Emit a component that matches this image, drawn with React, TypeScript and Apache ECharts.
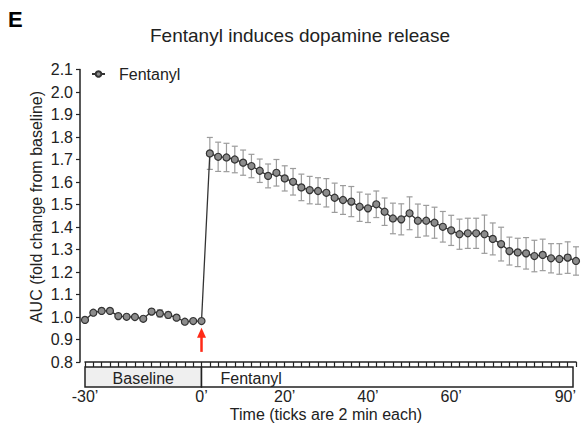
import React, { useEffect, useRef } from "react";
import * as echarts from "echarts";

const FONT = '"Liberation Sans", Arial, Helvetica, sans-serif';

const chartTitle = "Fentanyl induces dopamine release";
const panelLetter = "E";
const seriesName = "Fentanyl";
const yAxisTitle = "AUC (fold change from baseline)";
const xAxisTitle = "Time (ticks are 2 min each)";
const phaseLabels = ["Baseline", "Fentanyl"];

// x tick values (minutes) and their printed labels
const xLabelValues = [-28, 0, 20, 40, 60, 90];
const xLabelTexts = ["-30\u2019", "0\u2019", "20\u2019", "40\u2019", "60\u2019", "90\u2019"];

const baselineTimes = [-28, -26, -24, -22, -20, -18, -16, -14, -12, -10, -8, -6, -4, -2, 0];
const baselineMean = [0.987, 1.019, 1.027, 1.027, 1.004, 1.001, 1.0, 0.992, 1.024, 1.016, 1.009, 0.997, 0.979, 0.982, 0.982];
const baselineSem = [0.006, 0.006, 0.006, 0.006, 0.005, 0.005, 0.005, 0.006, 0.01, 0.016, 0.014, 0.006, 0.006, 0.005, 0.006];

const fentanylTimes = [
  2, 4, 6, 8, 10, 12, 14, 16, 18, 20, 22, 24, 26, 28, 30, 32, 34, 36, 38, 40, 42, 44, 46,
  48, 50, 52, 54, 56, 58, 60, 62, 64, 66, 68, 70, 72, 74, 76, 78, 80, 82, 84, 86, 88, 90,
];
const fentanylMean = [
  1.727, 1.712, 1.709, 1.7, 1.686, 1.671, 1.65, 1.627, 1.641, 1.616, 1.601, 1.576, 1.564, 1.56,
  1.552, 1.53, 1.52, 1.513, 1.49, 1.483, 1.501, 1.468, 1.438, 1.434, 1.461, 1.428, 1.428, 1.419,
  1.401, 1.385, 1.368, 1.372, 1.372, 1.368, 1.347, 1.324, 1.293, 1.287, 1.283, 1.271, 1.276,
  1.261, 1.258, 1.264, 1.249,
];
const fentanylSem = [
  0.071, 0.065, 0.063, 0.059, 0.056, 0.052, 0.052, 0.053, 0.059, 0.056, 0.059, 0.059, 0.061,
  0.059, 0.063, 0.065, 0.064, 0.067, 0.065, 0.063, 0.059, 0.061, 0.068, 0.069, 0.073, 0.074,
  0.068, 0.069, 0.068, 0.067, 0.067, 0.067, 0.067, 0.085, 0.071, 0.075, 0.062, 0.063, 0.07,
  0.07, 0.07, 0.065, 0.068, 0.07, 0.063,
];

// red arrow marking injection (time, from value, to value)
const arrowTime = 0;
const arrowFrom = 0.845;
const arrowTo = 0.952;

export default function App() {
  const ref = useRef<HTMLDivElement>(null);

  useEffect(() => {
    if (!ref.current) return;
    const chart = echarts.init(ref.current, undefined, { renderer: "svg" });

    const times = [...baselineTimes, ...fentanylTimes];
    const means = [...baselineMean, ...fentanylMean];
    const sems = [...baselineSem, ...fentanylSem];
    const lineData = times.map((t, i) => [t, means[i]]);
    const errData = times.map((t, i) => [t, means[i] - sems[i], means[i] + sems[i]]);

    const option: any = {
      animation: false,
      backgroundColor: "#ffffff",
      textStyle: { fontFamily: FONT },
      grid: { left: 85, right: 8, top: 69.5, bottom: 66, containLabel: false },
      legend: {
        data: [seriesName],
        left: 91,
        top: 66,
        padding: 0,
        itemWidth: 13,
        itemHeight: 7,
        textStyle: { fontSize: 16, color: "#222", fontFamily: FONT, padding: [0, 0, 0, 9] },
      },
      xAxis: {
        type: "value",
        min: -28,
        max: 90,
        interval: 2,
        splitLine: { show: false },
        axisLine: { onZero: false, lineStyle: { color: "#222", width: 1.5 } },
        axisTick: { show: true, length: 5, inside: false, lineStyle: { color: "#222", width: 1.2 } },
        axisLabel: {
          margin: 26,
          fontSize: 16,
          color: "#222",
          fontFamily: FONT,
          showMinLabel: true,
          showMaxLabel: true,
          alignMaxLabel: "right",
          formatter: (v: number) => {
            const k = xLabelValues.indexOf(Math.round(v));
            return k >= 0 ? xLabelTexts[k] : "";
          },
        },
      },
      yAxis: {
        type: "value",
        min: 0.8,
        max: 2.1,
        interval: 0.1,
        offset: 5,
        splitLine: { show: false },
        axisLine: { show: true, onZero: false, lineStyle: { color: "#222", width: 1.5 } },
        axisTick: { show: true, length: 4, lineStyle: { color: "#222", width: 1.2 } },
        axisLabel: {
          margin: 7,
          fontSize: 16,
          color: "#222",
          fontFamily: FONT,
          formatter: (v: number) => v.toFixed(1),
        },
      },
      series: [
        {
          type: "custom",
          name: "sem",
          data: errData,
          encode: { x: 0, y: [1, 2] },
          z: 1,
          renderItem: (params: any, api: any) => {
            const x = api.value(0);
            const lo = api.coord([x, api.value(1)]);
            const hi = api.coord([x, api.value(2)]);
            const w = 3;
            const st = { stroke: "#9c9c9c", lineWidth: 1.2 };
            return {
              type: "group",
              children: [
                { type: "line", shape: { x1: hi[0], y1: hi[1], x2: lo[0], y2: lo[1] }, style: st },
                { type: "line", shape: { x1: hi[0] - w, y1: hi[1], x2: hi[0] + w, y2: hi[1] }, style: st },
                { type: "line", shape: { x1: lo[0] - w, y1: lo[1], x2: lo[0] + w, y2: lo[1] }, style: st },
              ],
            };
          },
        },
        {
          type: "line",
          name: seriesName,
          data: lineData,
          z: 3,
          symbol: "circle",
          symbolSize: 7,
          showSymbol: true,
          lineStyle: { color: "#333", width: 1.3 },
          itemStyle: { color: "#8c8c8c", borderColor: "#333", borderWidth: 1.2 },
        },
      ],
    };

    chart.setOption(option);

    const px = (t: number, v: number) => chart.convertToPixel({ gridIndex: 0 }, [t, v]) as number[];
    const axisY = px(0, 0.8)[1];
    const boxTop = axisY + 5;
    const boxBottom = axisY + 25;
    const xStart = px(-28, 0.8)[0];
    const xZero = px(0, 0.8)[0];
    const xEnd = px(90, 0.8)[0] - 3;
    const aFrom = px(arrowTime, arrowFrom);
    const aTo = px(arrowTime, arrowTo);
    const red = "#ff2a17";

    chart.setOption({
      graphic: [
        {
          type: "text",
          style: { text: panelLetter, x: 8, y: 8, font: `bold 22px ${FONT}`, fill: "#000" },
        },
        {
          type: "text",
          style: {
            text: chartTitle,
            x: 300,
            y: 35,
            align: "center",
            verticalAlign: "middle",
            font: `19px ${FONT}`,
            fill: "#222",
          },
        },
        {
          type: "text",
          x: 36,
          y: 207,
          rotation: Math.PI / 2,
          style: {
            text: yAxisTitle,
            x: 0,
            y: 0,
            align: "center",
            verticalAlign: "middle",
            font: `16px ${FONT}`,
            fill: "#222",
          },
        },
        {
          type: "text",
          style: {
            text: xAxisTitle,
            x: 326,
            y: 414,
            align: "center",
            verticalAlign: "middle",
            font: `16px ${FONT}`,
            fill: "#222",
          },
        },
        {
          type: "rect",
          shape: { x: xStart, y: boxTop, width: xZero - xStart, height: boxBottom - boxTop },
          style: { fill: "#efefef", stroke: "#222", lineWidth: 1.5 },
        },
        {
          type: "rect",
          shape: { x: xZero, y: boxTop, width: xEnd - xZero, height: boxBottom - boxTop },
          style: { fill: "#ffffff", stroke: "#222", lineWidth: 1.5 },
        },
        {
          type: "text",
          style: {
            text: phaseLabels[0],
            x: (xStart + xZero) / 2,
            y: (boxTop + boxBottom) / 2 + 1,
            align: "center",
            verticalAlign: "middle",
            font: `16px ${FONT}`,
            fill: "#222",
          },
        },
        {
          type: "text",
          style: {
            text: phaseLabels[1],
            x: xZero + 19,
            y: (boxTop + boxBottom) / 2 + 1,
            align: "left",
            verticalAlign: "middle",
            font: `16px ${FONT}`,
            fill: "#222",
          },
        },
        {
          type: "line",
          shape: { x1: aFrom[0], y1: aFrom[1], x2: aTo[0], y2: aTo[1] + 8 },
          style: { stroke: red, lineWidth: 2.5 },
        },
        {
          type: "polygon",
          shape: {
            points: [
              [aTo[0] - 4.5, aTo[1] + 10],
              [aTo[0] + 4.5, aTo[1] + 10],
              [aTo[0], aTo[1]],
            ],
          },
          style: { fill: red },
        },
      ],
    });

    return () => chart.dispose();
  }, []);

  return (
    <div
      ref={ref}
      style={{ position: "fixed", left: 0, top: 0, width: 584, height: 428, background: "#fff" }}
    />
  );
}
